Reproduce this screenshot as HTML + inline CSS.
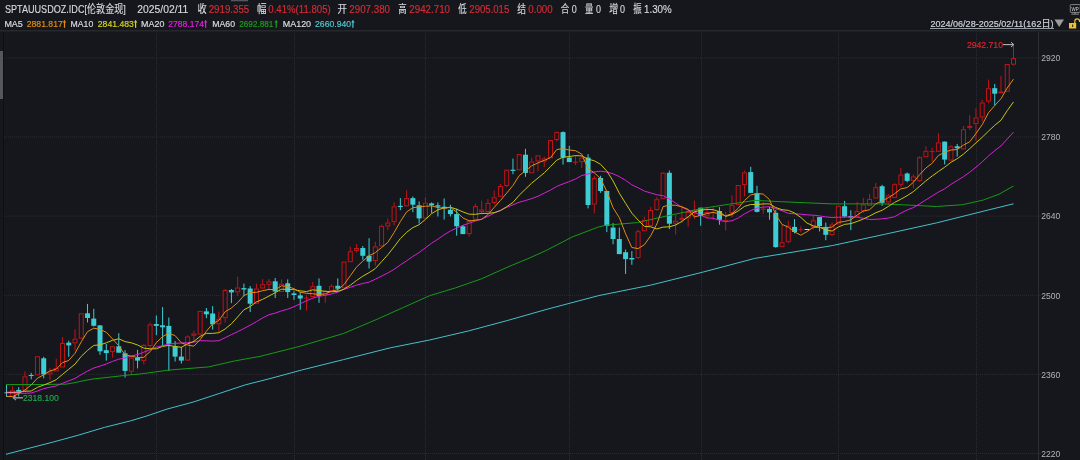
<!DOCTYPE html>
<html><head><meta charset="utf-8"><style>
html,body{margin:0;padding:0;background:#15171c;width:1080px;height:460px;overflow:hidden}
</style></head><body>
<svg width="1080" height="460" viewBox="0 0 1080 460" style="display:block">
<rect x="0" y="0" width="1080" height="460" fill="#15171c"/>
<rect x="0" y="30" width="1080" height="1" fill="#26282d"/>
<rect x="0" y="31" width="1080" height="1" fill="#1d1f24"/>
<rect x="3" y="32" width="1" height="428" fill="#0e0f12"/>
<rect x="0" y="51" width="3" height="48" fill="#55575e"/>
<rect x="1038" y="32" width="1" height="428" fill="#2c2e33"/>
<line x1="4" y1="57.9" x2="1038" y2="57.9" stroke="#2a2c31" stroke-width="1" stroke-dasharray="1 1"/>
<line x1="4" y1="137.0" x2="1038" y2="137.0" stroke="#2a2c31" stroke-width="1" stroke-dasharray="1 1"/>
<line x1="4" y1="216.1" x2="1038" y2="216.1" stroke="#2a2c31" stroke-width="1" stroke-dasharray="1 1"/>
<line x1="4" y1="295.3" x2="1038" y2="295.3" stroke="#2a2c31" stroke-width="1" stroke-dasharray="1 1"/>
<line x1="4" y1="374.4" x2="1038" y2="374.4" stroke="#2a2c31" stroke-width="1" stroke-dasharray="1 1"/>
<line x1="4" y1="453.5" x2="1038" y2="453.5" stroke="#2a2c31" stroke-width="1" stroke-dasharray="1 1"/>
<line x1="156.5" y1="33" x2="156.5" y2="460" stroke="#2a2c31" stroke-width="1" stroke-dasharray="1 1" shape-rendering="crispEdges"/>
<line x1="294.5" y1="33" x2="294.5" y2="460" stroke="#2a2c31" stroke-width="1" stroke-dasharray="1 1" shape-rendering="crispEdges"/>
<line x1="425.5" y1="33" x2="425.5" y2="460" stroke="#2a2c31" stroke-width="1" stroke-dasharray="1 1" shape-rendering="crispEdges"/>
<line x1="569.5" y1="33" x2="569.5" y2="460" stroke="#2a2c31" stroke-width="1" stroke-dasharray="1 1" shape-rendering="crispEdges"/>
<line x1="701.5" y1="33" x2="701.5" y2="460" stroke="#2a2c31" stroke-width="1" stroke-dasharray="1 1" shape-rendering="crispEdges"/>
<line x1="838.5" y1="33" x2="838.5" y2="460" stroke="#2a2c31" stroke-width="1" stroke-dasharray="1 1" shape-rendering="crispEdges"/>
<line x1="976.5" y1="33" x2="976.5" y2="460" stroke="#2a2c31" stroke-width="1" stroke-dasharray="1 1" shape-rendering="crispEdges"/>
<rect x="10.43" y="390.80" width="4" height="5.50" fill="#15171c" stroke="#c01418" stroke-width="1"/>
<rect x="11.93" y="386.10" width="1" height="4.20" fill="#c01418"/>
<rect x="11.93" y="396.80" width="1" height="0.50" fill="#c01418"/>
<rect x="18.19" y="387.10" width="1" height="9.40" fill="#3ecdd4"/>
<rect x="16.19" y="389.90" width="5" height="1.60" fill="#3ecdd4"/>
<rect x="22.94" y="376.80" width="4" height="13.30" fill="#15171c" stroke="#c01418" stroke-width="1"/>
<rect x="24.44" y="371.40" width="1" height="4.90" fill="#c01418"/>
<rect x="24.44" y="390.60" width="1" height="0.40" fill="#c01418"/>
<rect x="30.70" y="372.80" width="1" height="6.50" fill="#3ecdd4"/>
<rect x="28.70" y="375.00" width="5" height="1.00" fill="#3ecdd4"/>
<rect x="35.46" y="356.70" width="4" height="18.10" fill="#15171c" stroke="#c01418" stroke-width="1"/>
<rect x="43.21" y="356.80" width="1" height="21.50" fill="#3ecdd4"/>
<rect x="41.21" y="358.30" width="5" height="16.10" fill="#3ecdd4"/>
<rect x="47.97" y="371.90" width="4" height="2.00" fill="#15171c" stroke="#c01418" stroke-width="1"/>
<rect x="49.47" y="368.10" width="1" height="3.30" fill="#c01418"/>
<rect x="49.47" y="374.40" width="1" height="5.80" fill="#c01418"/>
<rect x="54.23" y="368.60" width="4" height="2.30" fill="#15171c" stroke="#c01418" stroke-width="1"/>
<rect x="55.73" y="358.70" width="1" height="9.40" fill="#c01418"/>
<rect x="60.48" y="343.50" width="4" height="23.50" fill="#15171c" stroke="#c01418" stroke-width="1"/>
<rect x="61.98" y="337.20" width="1" height="5.80" fill="#c01418"/>
<rect x="68.24" y="340.70" width="1" height="16.10" fill="#3ecdd4"/>
<rect x="66.24" y="342.70" width="5" height="2.70" fill="#3ecdd4"/>
<rect x="73.00" y="339.20" width="4" height="3.70" fill="#15171c" stroke="#c01418" stroke-width="1"/>
<rect x="74.50" y="329.40" width="1" height="9.30" fill="#c01418"/>
<rect x="74.50" y="343.40" width="1" height="7.10" fill="#c01418"/>
<rect x="79.25" y="313.80" width="4" height="24.40" fill="#15171c" stroke="#c01418" stroke-width="1"/>
<rect x="87.01" y="303.90" width="1" height="18.60" fill="#3ecdd4"/>
<rect x="85.01" y="313.30" width="5" height="4.70" fill="#3ecdd4"/>
<rect x="93.27" y="308.80" width="1" height="17.70" fill="#3ecdd4"/>
<rect x="91.27" y="318.60" width="5" height="7.20" fill="#3ecdd4"/>
<rect x="99.52" y="325.00" width="1" height="29.80" fill="#3ecdd4"/>
<rect x="97.52" y="325.40" width="5" height="25.90" fill="#3ecdd4"/>
<rect x="105.78" y="344.00" width="1" height="16.60" fill="#3ecdd4"/>
<rect x="103.78" y="350.20" width="5" height="2.90" fill="#3ecdd4"/>
<rect x="110.54" y="346.80" width="4" height="4.80" fill="#15171c" stroke="#c01418" stroke-width="1"/>
<rect x="112.04" y="352.10" width="1" height="5.50" fill="#c01418"/>
<rect x="118.29" y="333.20" width="1" height="19.50" fill="#3ecdd4"/>
<rect x="116.29" y="346.30" width="5" height="6.40" fill="#3ecdd4"/>
<rect x="124.55" y="350.20" width="1" height="27.40" fill="#3ecdd4"/>
<rect x="122.55" y="353.30" width="5" height="17.60" fill="#3ecdd4"/>
<rect x="129.31" y="358.10" width="4" height="13.10" fill="#15171c" stroke="#c01418" stroke-width="1"/>
<rect x="130.81" y="356.00" width="1" height="1.60" fill="#c01418"/>
<rect x="130.81" y="371.70" width="1" height="3.50" fill="#c01418"/>
<rect x="137.06" y="349.80" width="1" height="18.60" fill="#3ecdd4"/>
<rect x="135.06" y="358.00" width="5" height="2.60" fill="#3ecdd4"/>
<rect x="141.82" y="345.40" width="4" height="15.20" fill="#15171c" stroke="#c01418" stroke-width="1"/>
<rect x="143.32" y="343.90" width="1" height="1.00" fill="#c01418"/>
<rect x="143.32" y="361.10" width="1" height="3.40" fill="#c01418"/>
<rect x="148.08" y="324.90" width="4" height="20.60" fill="#15171c" stroke="#c01418" stroke-width="1"/>
<rect x="149.58" y="322.40" width="1" height="2.00" fill="#c01418"/>
<rect x="149.58" y="346.00" width="1" height="2.20" fill="#c01418"/>
<rect x="155.83" y="315.50" width="1" height="19.60" fill="#3ecdd4"/>
<rect x="153.83" y="324.00" width="5" height="1.90" fill="#3ecdd4"/>
<rect x="162.09" y="307.10" width="1" height="38.80" fill="#3ecdd4"/>
<rect x="160.09" y="325.30" width="5" height="2.00" fill="#3ecdd4"/>
<rect x="168.35" y="317.50" width="1" height="53.40" fill="#3ecdd4"/>
<rect x="166.35" y="325.90" width="5" height="18.00" fill="#3ecdd4"/>
<rect x="174.60" y="341.00" width="1" height="20.50" fill="#3ecdd4"/>
<rect x="172.60" y="346.30" width="5" height="10.30" fill="#3ecdd4"/>
<rect x="180.86" y="346.90" width="1" height="16.60" fill="#3ecdd4"/>
<rect x="178.86" y="356.60" width="5" height="4.00" fill="#3ecdd4"/>
<rect x="185.62" y="336.90" width="4" height="23.20" fill="#15171c" stroke="#c01418" stroke-width="1"/>
<rect x="187.12" y="335.40" width="1" height="1.00" fill="#c01418"/>
<rect x="187.12" y="360.60" width="1" height="0.40" fill="#c01418"/>
<rect x="191.87" y="334.00" width="4" height="1.30" fill="#15171c" stroke="#c01418" stroke-width="1"/>
<rect x="193.37" y="330.60" width="1" height="2.90" fill="#c01418"/>
<rect x="193.37" y="335.80" width="1" height="6.50" fill="#c01418"/>
<rect x="198.13" y="311.50" width="4" height="22.50" fill="#15171c" stroke="#c01418" stroke-width="1"/>
<rect x="205.89" y="308.00" width="1" height="10.20" fill="#3ecdd4"/>
<rect x="203.89" y="311.40" width="5" height="2.90" fill="#3ecdd4"/>
<rect x="212.14" y="306.10" width="1" height="23.50" fill="#3ecdd4"/>
<rect x="210.14" y="313.50" width="5" height="10.80" fill="#3ecdd4"/>
<rect x="216.90" y="319.30" width="4" height="4.50" fill="#15171c" stroke="#c01418" stroke-width="1"/>
<rect x="218.40" y="311.60" width="1" height="7.20" fill="#c01418"/>
<rect x="218.40" y="324.30" width="1" height="8.20" fill="#c01418"/>
<rect x="223.16" y="290.50" width="4" height="27.20" fill="#15171c" stroke="#c01418" stroke-width="1"/>
<rect x="224.66" y="288.90" width="1" height="1.10" fill="#c01418"/>
<rect x="224.66" y="318.20" width="1" height="4.50" fill="#c01418"/>
<rect x="230.91" y="289.00" width="1" height="14.20" fill="#3ecdd4"/>
<rect x="228.91" y="290.00" width="5" height="2.40" fill="#3ecdd4"/>
<rect x="235.67" y="288.00" width="4" height="3.90" fill="#15171c" stroke="#c01418" stroke-width="1"/>
<rect x="237.17" y="276.70" width="1" height="10.80" fill="#c01418"/>
<rect x="237.17" y="292.40" width="1" height="3.50" fill="#c01418"/>
<rect x="243.43" y="283.60" width="1" height="12.70" fill="#3ecdd4"/>
<rect x="241.43" y="288.10" width="5" height="1.40" fill="#3ecdd4"/>
<rect x="249.68" y="286.10" width="1" height="25.90" fill="#3ecdd4"/>
<rect x="247.68" y="288.50" width="5" height="15.20" fill="#3ecdd4"/>
<rect x="254.44" y="289.00" width="4" height="14.20" fill="#15171c" stroke="#c01418" stroke-width="1"/>
<rect x="255.94" y="283.60" width="1" height="4.90" fill="#c01418"/>
<rect x="260.70" y="284.70" width="4" height="3.30" fill="#15171c" stroke="#c01418" stroke-width="1"/>
<rect x="262.20" y="279.10" width="1" height="5.10" fill="#c01418"/>
<rect x="266.95" y="281.80" width="4" height="2.50" fill="#15171c" stroke="#c01418" stroke-width="1"/>
<rect x="268.45" y="279.00" width="1" height="2.30" fill="#c01418"/>
<rect x="268.45" y="284.80" width="1" height="5.30" fill="#c01418"/>
<rect x="274.71" y="278.00" width="1" height="20.00" fill="#3ecdd4"/>
<rect x="272.71" y="281.30" width="5" height="10.20" fill="#3ecdd4"/>
<rect x="279.47" y="284.20" width="4" height="7.40" fill="#15171c" stroke="#c01418" stroke-width="1"/>
<rect x="280.97" y="279.40" width="1" height="4.30" fill="#c01418"/>
<rect x="287.22" y="279.40" width="1" height="18.60" fill="#3ecdd4"/>
<rect x="285.22" y="283.30" width="5" height="8.80" fill="#3ecdd4"/>
<rect x="293.48" y="291.10" width="1" height="8.80" fill="#3ecdd4"/>
<rect x="291.48" y="293.40" width="5" height="1.60" fill="#3ecdd4"/>
<rect x="299.74" y="292.10" width="1" height="17.60" fill="#3ecdd4"/>
<rect x="297.74" y="295.40" width="5" height="3.10" fill="#3ecdd4"/>
<rect x="303.99" y="297.65" width="5" height="1" fill="#c01418"/>
<rect x="305.99" y="295.00" width="1" height="15.70" fill="#c01418"/>
<rect x="310.75" y="286.70" width="4" height="9.80" fill="#15171c" stroke="#c01418" stroke-width="1"/>
<rect x="312.25" y="281.90" width="1" height="4.30" fill="#c01418"/>
<rect x="318.51" y="278.40" width="1" height="24.40" fill="#3ecdd4"/>
<rect x="316.51" y="285.80" width="5" height="10.20" fill="#3ecdd4"/>
<rect x="323.27" y="291.60" width="4" height="3.30" fill="#15171c" stroke="#c01418" stroke-width="1"/>
<rect x="324.77" y="290.00" width="1" height="1.10" fill="#c01418"/>
<rect x="324.77" y="295.40" width="1" height="7.40" fill="#c01418"/>
<rect x="329.52" y="286.30" width="4" height="4.30" fill="#15171c" stroke="#c01418" stroke-width="1"/>
<rect x="331.02" y="284.20" width="1" height="1.60" fill="#c01418"/>
<rect x="337.28" y="278.40" width="1" height="12.70" fill="#3ecdd4"/>
<rect x="335.28" y="285.80" width="5" height="2.90" fill="#3ecdd4"/>
<rect x="342.04" y="262.10" width="4" height="25.60" fill="#15171c" stroke="#c01418" stroke-width="1"/>
<rect x="348.29" y="251.80" width="4" height="9.90" fill="#15171c" stroke="#c01418" stroke-width="1"/>
<rect x="349.79" y="246.60" width="1" height="4.70" fill="#c01418"/>
<rect x="354.55" y="248.50" width="4" height="1.90" fill="#15171c" stroke="#c01418" stroke-width="1"/>
<rect x="356.05" y="244.00" width="1" height="4.00" fill="#c01418"/>
<rect x="356.05" y="250.90" width="1" height="1.50" fill="#c01418"/>
<rect x="362.31" y="246.00" width="1" height="13.70" fill="#3ecdd4"/>
<rect x="360.31" y="248.00" width="5" height="7.80" fill="#3ecdd4"/>
<rect x="368.56" y="238.20" width="1" height="30.30" fill="#3ecdd4"/>
<rect x="366.56" y="255.80" width="5" height="5.80" fill="#3ecdd4"/>
<rect x="373.32" y="246.90" width="4" height="13.70" fill="#15171c" stroke="#c01418" stroke-width="1"/>
<rect x="374.82" y="241.70" width="1" height="4.70" fill="#c01418"/>
<rect x="374.82" y="261.10" width="1" height="4.50" fill="#c01418"/>
<rect x="379.58" y="226.30" width="4" height="19.60" fill="#15171c" stroke="#c01418" stroke-width="1"/>
<rect x="381.08" y="224.50" width="1" height="1.30" fill="#c01418"/>
<rect x="385.83" y="223.00" width="4" height="2.90" fill="#15171c" stroke="#c01418" stroke-width="1"/>
<rect x="387.33" y="218.60" width="1" height="3.90" fill="#c01418"/>
<rect x="387.33" y="226.40" width="1" height="3.90" fill="#c01418"/>
<rect x="392.09" y="206.80" width="4" height="14.90" fill="#15171c" stroke="#c01418" stroke-width="1"/>
<rect x="393.59" y="202.40" width="1" height="3.90" fill="#c01418"/>
<rect x="393.59" y="222.20" width="1" height="3.20" fill="#c01418"/>
<rect x="399.85" y="198.10" width="1" height="12.10" fill="#3ecdd4"/>
<rect x="397.85" y="205.90" width="5" height="1.10" fill="#3ecdd4"/>
<rect x="404.60" y="198.60" width="4" height="7.20" fill="#15171c" stroke="#c01418" stroke-width="1"/>
<rect x="406.10" y="190.30" width="1" height="7.80" fill="#c01418"/>
<rect x="412.36" y="196.50" width="1" height="15.70" fill="#3ecdd4"/>
<rect x="410.36" y="198.10" width="5" height="6.60" fill="#3ecdd4"/>
<rect x="418.62" y="201.40" width="1" height="22.10" fill="#3ecdd4"/>
<rect x="416.62" y="205.30" width="5" height="13.10" fill="#3ecdd4"/>
<rect x="423.37" y="203.30" width="4" height="14.60" fill="#15171c" stroke="#c01418" stroke-width="1"/>
<rect x="424.87" y="197.50" width="1" height="5.30" fill="#c01418"/>
<rect x="424.87" y="218.40" width="1" height="0.60" fill="#c01418"/>
<rect x="431.13" y="202.40" width="1" height="10.80" fill="#3ecdd4"/>
<rect x="429.13" y="203.40" width="5" height="1.90" fill="#3ecdd4"/>
<rect x="437.39" y="202.40" width="1" height="14.10" fill="#3ecdd4"/>
<rect x="435.39" y="205.30" width="5" height="1.40" fill="#3ecdd4"/>
<rect x="443.64" y="198.50" width="1" height="21.10" fill="#3ecdd4"/>
<rect x="441.64" y="206.70" width="5" height="1.60" fill="#3ecdd4"/>
<rect x="449.90" y="204.70" width="1" height="11.80" fill="#3ecdd4"/>
<rect x="447.90" y="209.80" width="5" height="4.30" fill="#3ecdd4"/>
<rect x="456.16" y="208.70" width="1" height="27.00" fill="#3ecdd4"/>
<rect x="454.16" y="214.10" width="5" height="12.20" fill="#3ecdd4"/>
<rect x="462.41" y="225.00" width="1" height="9.10" fill="#3ecdd4"/>
<rect x="460.41" y="226.30" width="5" height="7.80" fill="#3ecdd4"/>
<rect x="467.17" y="221.50" width="4" height="12.10" fill="#15171c" stroke="#c01418" stroke-width="1"/>
<rect x="468.67" y="219.60" width="1" height="1.40" fill="#c01418"/>
<rect x="468.67" y="234.10" width="1" height="2.50" fill="#c01418"/>
<rect x="473.43" y="206.60" width="4" height="12.70" fill="#15171c" stroke="#c01418" stroke-width="1"/>
<rect x="474.93" y="203.60" width="1" height="2.50" fill="#c01418"/>
<rect x="474.93" y="219.80" width="1" height="0.60" fill="#c01418"/>
<rect x="479.68" y="210.00" width="4" height="1.50" fill="#15171c" stroke="#c01418" stroke-width="1"/>
<rect x="481.18" y="200.70" width="1" height="8.80" fill="#c01418"/>
<rect x="481.18" y="212.00" width="1" height="2.40" fill="#c01418"/>
<rect x="485.94" y="203.50" width="4" height="8.00" fill="#15171c" stroke="#c01418" stroke-width="1"/>
<rect x="487.44" y="199.10" width="1" height="3.90" fill="#c01418"/>
<rect x="487.44" y="212.00" width="1" height="0.40" fill="#c01418"/>
<rect x="492.20" y="197.80" width="4" height="4.70" fill="#15171c" stroke="#c01418" stroke-width="1"/>
<rect x="493.70" y="190.50" width="1" height="6.80" fill="#c01418"/>
<rect x="493.70" y="203.00" width="1" height="1.60" fill="#c01418"/>
<rect x="498.45" y="186.50" width="4" height="9.80" fill="#15171c" stroke="#c01418" stroke-width="1"/>
<rect x="499.95" y="184.00" width="1" height="2.00" fill="#c01418"/>
<rect x="504.71" y="170.20" width="4" height="15.30" fill="#15171c" stroke="#c01418" stroke-width="1"/>
<rect x="506.21" y="186.00" width="1" height="1.00" fill="#c01418"/>
<rect x="512.47" y="158.60" width="1" height="15.60" fill="#3ecdd4"/>
<rect x="510.47" y="169.70" width="5" height="1.20" fill="#3ecdd4"/>
<rect x="517.22" y="154.60" width="4" height="15.20" fill="#15171c" stroke="#c01418" stroke-width="1"/>
<rect x="524.98" y="148.80" width="1" height="28.00" fill="#3ecdd4"/>
<rect x="522.98" y="154.70" width="5" height="18.20" fill="#3ecdd4"/>
<rect x="529.74" y="162.00" width="4" height="10.80" fill="#15171c" stroke="#c01418" stroke-width="1"/>
<rect x="531.24" y="157.60" width="1" height="3.90" fill="#c01418"/>
<rect x="535.99" y="155.80" width="4" height="5.20" fill="#15171c" stroke="#c01418" stroke-width="1"/>
<rect x="537.49" y="161.50" width="1" height="9.80" fill="#c01418"/>
<rect x="542.25" y="158.90" width="4" height="2.20" fill="#15171c" stroke="#c01418" stroke-width="1"/>
<rect x="543.75" y="156.60" width="1" height="1.80" fill="#c01418"/>
<rect x="543.75" y="161.60" width="1" height="5.40" fill="#c01418"/>
<rect x="548.51" y="140.50" width="4" height="17.20" fill="#15171c" stroke="#c01418" stroke-width="1"/>
<rect x="554.76" y="132.60" width="4" height="6.90" fill="#15171c" stroke="#c01418" stroke-width="1"/>
<rect x="556.26" y="131.40" width="1" height="0.70" fill="#c01418"/>
<rect x="556.26" y="140.00" width="1" height="1.50" fill="#c01418"/>
<rect x="562.52" y="131.40" width="1" height="33.20" fill="#3ecdd4"/>
<rect x="560.52" y="132.10" width="5" height="25.50" fill="#3ecdd4"/>
<rect x="568.78" y="145.80" width="1" height="16.30" fill="#3ecdd4"/>
<rect x="566.78" y="157.60" width="5" height="4.50" fill="#3ecdd4"/>
<rect x="573.03" y="161.75" width="5" height="1" fill="#c01418"/>
<rect x="575.03" y="155.20" width="1" height="9.80" fill="#c01418"/>
<rect x="579.79" y="158.10" width="4" height="3.50" fill="#15171c" stroke="#c01418" stroke-width="1"/>
<rect x="581.29" y="155.60" width="1" height="2.00" fill="#c01418"/>
<rect x="581.29" y="162.10" width="1" height="5.90" fill="#c01418"/>
<rect x="587.55" y="154.20" width="1" height="54.20" fill="#3ecdd4"/>
<rect x="585.55" y="157.60" width="5" height="47.40" fill="#3ecdd4"/>
<rect x="592.30" y="178.50" width="4" height="25.60" fill="#15171c" stroke="#c01418" stroke-width="1"/>
<rect x="593.80" y="175.80" width="1" height="2.20" fill="#c01418"/>
<rect x="593.80" y="204.60" width="1" height="8.80" fill="#c01418"/>
<rect x="600.06" y="175.80" width="1" height="17.00" fill="#3ecdd4"/>
<rect x="598.06" y="178.00" width="5" height="13.00" fill="#3ecdd4"/>
<rect x="606.32" y="190.80" width="1" height="41.30" fill="#3ecdd4"/>
<rect x="604.32" y="191.00" width="5" height="35.00" fill="#3ecdd4"/>
<rect x="612.57" y="223.00" width="1" height="21.20" fill="#3ecdd4"/>
<rect x="610.57" y="227.60" width="5" height="11.40" fill="#3ecdd4"/>
<rect x="618.83" y="227.60" width="1" height="26.50" fill="#3ecdd4"/>
<rect x="616.83" y="239.00" width="5" height="15.10" fill="#3ecdd4"/>
<rect x="625.09" y="249.50" width="1" height="24.40" fill="#3ecdd4"/>
<rect x="623.09" y="252.20" width="5" height="6.90" fill="#3ecdd4"/>
<rect x="631.34" y="251.10" width="1" height="13.70" fill="#3ecdd4"/>
<rect x="629.34" y="258.00" width="5" height="1.50" fill="#3ecdd4"/>
<rect x="636.10" y="231.70" width="4" height="25.80" fill="#15171c" stroke="#c01418" stroke-width="1"/>
<rect x="637.60" y="229.80" width="1" height="1.40" fill="#c01418"/>
<rect x="637.60" y="258.00" width="1" height="1.10" fill="#c01418"/>
<rect x="642.36" y="220.30" width="4" height="10.40" fill="#15171c" stroke="#c01418" stroke-width="1"/>
<rect x="643.86" y="216.80" width="1" height="3.00" fill="#c01418"/>
<rect x="648.61" y="210.50" width="4" height="15.00" fill="#15171c" stroke="#c01418" stroke-width="1"/>
<rect x="650.11" y="207.00" width="1" height="3.00" fill="#c01418"/>
<rect x="650.11" y="226.00" width="1" height="0.60" fill="#c01418"/>
<rect x="654.87" y="199.70" width="4" height="9.80" fill="#15171c" stroke="#c01418" stroke-width="1"/>
<rect x="656.37" y="197.00" width="1" height="2.20" fill="#c01418"/>
<rect x="656.37" y="210.00" width="1" height="0.70" fill="#c01418"/>
<rect x="661.13" y="173.20" width="4" height="25.50" fill="#15171c" stroke="#c01418" stroke-width="1"/>
<rect x="662.63" y="172.00" width="1" height="0.70" fill="#c01418"/>
<rect x="668.88" y="170.50" width="1" height="58.70" fill="#3ecdd4"/>
<rect x="666.88" y="172.80" width="5" height="50.90" fill="#3ecdd4"/>
<rect x="673.64" y="221.30" width="4" height="1.90" fill="#15171c" stroke="#c01418" stroke-width="1"/>
<rect x="675.14" y="214.90" width="1" height="5.90" fill="#c01418"/>
<rect x="675.14" y="223.70" width="1" height="10.80" fill="#c01418"/>
<rect x="679.90" y="218.30" width="4" height="1.00" fill="#15171c" stroke="#c01418" stroke-width="1"/>
<rect x="681.40" y="205.70" width="1" height="12.10" fill="#c01418"/>
<rect x="681.40" y="219.80" width="1" height="2.90" fill="#c01418"/>
<rect x="686.15" y="212.50" width="4" height="5.20" fill="#15171c" stroke="#c01418" stroke-width="1"/>
<rect x="687.65" y="210.00" width="1" height="2.00" fill="#c01418"/>
<rect x="687.65" y="218.20" width="1" height="8.40" fill="#c01418"/>
<rect x="692.41" y="210.90" width="4" height="1.50" fill="#15171c" stroke="#c01418" stroke-width="1"/>
<rect x="693.91" y="200.60" width="1" height="9.80" fill="#c01418"/>
<rect x="693.91" y="212.90" width="1" height="5.90" fill="#c01418"/>
<rect x="700.17" y="207.70" width="1" height="18.00" fill="#3ecdd4"/>
<rect x="698.17" y="207.70" width="5" height="8.20" fill="#3ecdd4"/>
<rect x="704.92" y="212.50" width="4" height="3.30" fill="#15171c" stroke="#c01418" stroke-width="1"/>
<rect x="706.42" y="207.10" width="1" height="4.90" fill="#c01418"/>
<rect x="706.42" y="216.30" width="1" height="2.50" fill="#c01418"/>
<rect x="710.68" y="211.75" width="5" height="1" fill="#c01418"/>
<rect x="712.68" y="207.10" width="1" height="12.70" fill="#c01418"/>
<rect x="718.94" y="207.10" width="1" height="17.60" fill="#3ecdd4"/>
<rect x="716.94" y="211.00" width="5" height="8.80" fill="#3ecdd4"/>
<rect x="723.19" y="220.10" width="5" height="1" fill="#c01418"/>
<rect x="725.19" y="212.00" width="1" height="18.60" fill="#c01418"/>
<rect x="729.95" y="205.60" width="4" height="6.80" fill="#15171c" stroke="#c01418" stroke-width="1"/>
<rect x="731.45" y="195.30" width="1" height="9.80" fill="#c01418"/>
<rect x="731.45" y="212.90" width="1" height="4.50" fill="#c01418"/>
<rect x="736.21" y="185.50" width="4" height="19.10" fill="#15171c" stroke="#c01418" stroke-width="1"/>
<rect x="742.46" y="172.90" width="4" height="11.60" fill="#15171c" stroke="#c01418" stroke-width="1"/>
<rect x="743.96" y="170.50" width="1" height="1.90" fill="#c01418"/>
<rect x="743.96" y="185.00" width="1" height="11.30" fill="#c01418"/>
<rect x="750.22" y="166.80" width="1" height="26.10" fill="#3ecdd4"/>
<rect x="748.22" y="172.10" width="5" height="20.80" fill="#3ecdd4"/>
<rect x="756.48" y="185.80" width="1" height="26.60" fill="#3ecdd4"/>
<rect x="754.48" y="193.30" width="5" height="18.60" fill="#3ecdd4"/>
<rect x="760.73" y="208.70" width="5" height="1" fill="#c01418"/>
<rect x="762.73" y="202.10" width="1" height="11.70" fill="#c01418"/>
<rect x="768.99" y="207.00" width="1" height="12.70" fill="#3ecdd4"/>
<rect x="766.99" y="208.90" width="5" height="3.50" fill="#3ecdd4"/>
<rect x="775.25" y="209.90" width="1" height="37.80" fill="#3ecdd4"/>
<rect x="773.25" y="212.80" width="5" height="34.30" fill="#3ecdd4"/>
<rect x="780.00" y="242.70" width="4" height="3.90" fill="#15171c" stroke="#c01418" stroke-width="1"/>
<rect x="781.50" y="224.60" width="1" height="17.60" fill="#c01418"/>
<rect x="786.26" y="226.10" width="4" height="15.60" fill="#15171c" stroke="#c01418" stroke-width="1"/>
<rect x="787.76" y="220.70" width="1" height="4.90" fill="#c01418"/>
<rect x="787.76" y="242.20" width="1" height="1.00" fill="#c01418"/>
<rect x="794.02" y="219.10" width="1" height="14.30" fill="#3ecdd4"/>
<rect x="792.02" y="226.90" width="5" height="5.10" fill="#3ecdd4"/>
<rect x="798.27" y="229.20" width="5" height="1" fill="#c01418"/>
<rect x="800.27" y="226.50" width="1" height="5.90" fill="#c01418"/>
<rect x="804.53" y="229.00" width="5" height="1" fill="#d8d8d8"/>
<rect x="811.29" y="220.80" width="4" height="5.60" fill="#15171c" stroke="#c01418" stroke-width="1"/>
<rect x="812.79" y="215.80" width="1" height="4.50" fill="#c01418"/>
<rect x="812.79" y="226.90" width="1" height="2.60" fill="#c01418"/>
<rect x="819.04" y="217.10" width="1" height="14.30" fill="#3ecdd4"/>
<rect x="817.04" y="217.10" width="5" height="9.00" fill="#3ecdd4"/>
<rect x="825.30" y="222.60" width="1" height="17.60" fill="#3ecdd4"/>
<rect x="823.30" y="226.90" width="5" height="7.90" fill="#3ecdd4"/>
<rect x="830.06" y="224.90" width="4" height="9.70" fill="#15171c" stroke="#c01418" stroke-width="1"/>
<rect x="831.56" y="222.40" width="1" height="2.00" fill="#c01418"/>
<rect x="831.56" y="235.10" width="1" height="1.00" fill="#c01418"/>
<rect x="836.31" y="206.30" width="4" height="17.60" fill="#15171c" stroke="#c01418" stroke-width="1"/>
<rect x="844.07" y="200.90" width="1" height="16.60" fill="#3ecdd4"/>
<rect x="842.07" y="206.20" width="5" height="10.30" fill="#3ecdd4"/>
<rect x="850.33" y="210.30" width="1" height="19.90" fill="#3ecdd4"/>
<rect x="848.33" y="216.10" width="5" height="1.40" fill="#3ecdd4"/>
<rect x="855.08" y="211.60" width="4" height="4.80" fill="#15171c" stroke="#c01418" stroke-width="1"/>
<rect x="856.58" y="201.90" width="1" height="9.20" fill="#c01418"/>
<rect x="861.34" y="204.90" width="4" height="5.70" fill="#15171c" stroke="#c01418" stroke-width="1"/>
<rect x="862.84" y="197.90" width="1" height="6.50" fill="#c01418"/>
<rect x="862.84" y="211.10" width="1" height="1.50" fill="#c01418"/>
<rect x="867.60" y="199.40" width="4" height="5.90" fill="#15171c" stroke="#c01418" stroke-width="1"/>
<rect x="869.10" y="194.00" width="1" height="4.90" fill="#c01418"/>
<rect x="873.85" y="187.70" width="4" height="10.30" fill="#15171c" stroke="#c01418" stroke-width="1"/>
<rect x="875.35" y="182.90" width="1" height="4.30" fill="#c01418"/>
<rect x="881.61" y="184.80" width="1" height="21.00" fill="#3ecdd4"/>
<rect x="879.61" y="186.20" width="5" height="16.60" fill="#3ecdd4"/>
<rect x="886.37" y="195.90" width="4" height="6.00" fill="#15171c" stroke="#c01418" stroke-width="1"/>
<rect x="887.87" y="194.00" width="1" height="1.40" fill="#c01418"/>
<rect x="887.87" y="202.40" width="1" height="2.00" fill="#c01418"/>
<rect x="892.62" y="184.70" width="4" height="12.70" fill="#15171c" stroke="#c01418" stroke-width="1"/>
<rect x="894.12" y="183.30" width="1" height="0.90" fill="#c01418"/>
<rect x="898.88" y="175.00" width="4" height="9.30" fill="#15171c" stroke="#c01418" stroke-width="1"/>
<rect x="900.38" y="168.00" width="1" height="6.50" fill="#c01418"/>
<rect x="900.38" y="184.80" width="1" height="2.40" fill="#c01418"/>
<rect x="906.64" y="172.50" width="1" height="9.80" fill="#3ecdd4"/>
<rect x="904.64" y="173.50" width="5" height="7.40" fill="#3ecdd4"/>
<rect x="911.39" y="176.90" width="4" height="3.50" fill="#15171c" stroke="#c01418" stroke-width="1"/>
<rect x="912.89" y="174.40" width="1" height="2.00" fill="#c01418"/>
<rect x="912.89" y="180.90" width="1" height="7.30" fill="#c01418"/>
<rect x="917.65" y="157.70" width="4" height="22.90" fill="#15171c" stroke="#c01418" stroke-width="1"/>
<rect x="919.15" y="156.10" width="1" height="1.10" fill="#c01418"/>
<rect x="919.15" y="181.10" width="1" height="1.00" fill="#c01418"/>
<rect x="923.91" y="151.30" width="4" height="5.40" fill="#15171c" stroke="#c01418" stroke-width="1"/>
<rect x="925.41" y="146.30" width="1" height="4.50" fill="#c01418"/>
<rect x="929.66" y="150.95" width="5" height="1" fill="#c01418"/>
<rect x="931.66" y="147.80" width="1" height="13.70" fill="#c01418"/>
<rect x="936.42" y="142.90" width="4" height="8.40" fill="#15171c" stroke="#c01418" stroke-width="1"/>
<rect x="937.92" y="133.20" width="1" height="9.20" fill="#c01418"/>
<rect x="944.18" y="141.60" width="1" height="22.90" fill="#3ecdd4"/>
<rect x="942.18" y="141.60" width="5" height="18.00" fill="#3ecdd4"/>
<rect x="948.94" y="146.80" width="4" height="13.30" fill="#15171c" stroke="#c01418" stroke-width="1"/>
<rect x="950.44" y="144.90" width="1" height="1.40" fill="#c01418"/>
<rect x="956.69" y="143.90" width="1" height="12.70" fill="#3ecdd4"/>
<rect x="954.69" y="146.30" width="5" height="1.90" fill="#3ecdd4"/>
<rect x="961.45" y="129.70" width="4" height="19.20" fill="#15171c" stroke="#c01418" stroke-width="1"/>
<rect x="962.95" y="125.90" width="1" height="3.30" fill="#c01418"/>
<rect x="967.71" y="126.40" width="4" height="1.00" fill="#15171c" stroke="#c01418" stroke-width="1"/>
<rect x="969.21" y="115.20" width="1" height="10.70" fill="#c01418"/>
<rect x="969.21" y="127.90" width="1" height="1.90" fill="#c01418"/>
<rect x="973.96" y="118.00" width="4" height="5.50" fill="#15171c" stroke="#c01418" stroke-width="1"/>
<rect x="975.46" y="108.30" width="1" height="9.20" fill="#c01418"/>
<rect x="975.46" y="124.00" width="1" height="17.00" fill="#c01418"/>
<rect x="980.22" y="103.00" width="4" height="14.00" fill="#15171c" stroke="#c01418" stroke-width="1"/>
<rect x="981.72" y="99.80" width="1" height="2.70" fill="#c01418"/>
<rect x="981.72" y="117.50" width="1" height="3.90" fill="#c01418"/>
<rect x="986.48" y="88.70" width="4" height="12.30" fill="#15171c" stroke="#c01418" stroke-width="1"/>
<rect x="987.98" y="79.60" width="1" height="8.60" fill="#c01418"/>
<rect x="987.98" y="101.50" width="1" height="1.70" fill="#c01418"/>
<rect x="994.23" y="83.90" width="1" height="21.60" fill="#3ecdd4"/>
<rect x="992.23" y="88.20" width="5" height="5.50" fill="#3ecdd4"/>
<rect x="998.99" y="91.90" width="4" height="0.90" fill="#15171c" stroke="#c01418" stroke-width="1"/>
<rect x="1000.49" y="76.10" width="1" height="15.30" fill="#c01418"/>
<rect x="1005.25" y="64.50" width="4" height="26.80" fill="#15171c" stroke="#c01418" stroke-width="1"/>
<rect x="1011.50" y="58.60" width="4" height="5.60" fill="#15171c" stroke="#c01418" stroke-width="1"/>
<rect x="1013.00" y="44.60" width="1" height="13.50" fill="#c01418"/>
<rect x="1013.00" y="64.70" width="1" height="1.00" fill="#c01418"/>
<polyline points="6.0,454.3 26.1,449.0 52.2,442.3 78.3,435.2 104.4,427.4 130.4,420.9 146.1,416.2 167.0,409.1 193.1,402.1 219.2,393.5 245.2,384.9 270.0,378.6 301.7,370.0 343.5,359.6 390.4,347.8 429.6,340.0 468.7,330.9 507.8,320.4 546.1,309.5 598.3,295.7 650.4,285.2 702.6,272.2 754.8,258.4 790.0,252.6 832.2,245.6 884.3,234.4 936.5,222.9 988.6,209.9 1013.5,203.8" fill="none" stroke="#46c0c8" stroke-width="1" stroke-linejoin="round"/>
<polyline points="6.0,384.6 40.0,384.5 66.0,384.2 75.0,382.6 84.0,380.6 93.0,379.0 111.0,377.0 130.5,374.8 140.0,374.0 169.6,370.0 208.7,366.9 234.8,360.9 260.0,356.4 299.1,346.5 343.5,333.5 377.4,319.1 403.5,307.4 429.6,295.7 455.7,287.8 481.8,278.7 507.8,267.0 530.0,257.8 546.1,250.5 572.2,237.0 598.3,227.0 606.1,225.2 637.4,222.6 666.1,216.1 702.6,208.3 728.7,204.3 754.8,200.4 780.9,201.7 832.2,203.9 884.3,203.9 910.4,205.2 936.5,206.5 962.5,204.7 983.4,200.0 999.0,194.2 1013.5,186.0" fill="none" stroke="#169a18" stroke-width="1" stroke-linejoin="round"/>
<polyline points="6.0,392.8 12.4,393.0 18.7,393.2 24.9,393.3 31.2,393.0 37.5,391.0 43.7,388.6 50.0,387.2 56.2,385.9 62.5,383.3 68.7,380.9 75.0,378.4 81.3,374.6 87.5,371.1 93.8,368.0 100.0,366.1 106.3,363.9 112.5,361.4 118.8,359.2 125.1,358.0 131.3,356.0 137.6,354.5 143.8,352.2 150.1,349.6 156.3,347.1 162.6,345.7 168.8,344.1 175.1,343.4 181.4,343.0 187.6,342.7 193.9,342.1 200.1,340.7 206.4,340.8 212.6,341.1 218.9,340.7 225.2,337.7 231.4,334.6 237.7,331.7 243.9,328.5 250.2,325.2 256.4,321.7 262.7,317.9 269.0,314.7 275.2,313.1 281.5,310.9 287.7,309.2 294.0,306.7 300.2,303.8 306.5,300.7 312.8,298.2 319.0,296.3 325.3,295.3 331.5,293.9 337.8,292.1 344.0,289.2 350.3,287.3 356.5,285.1 362.8,283.5 369.1,282.1 375.3,279.2 381.6,276.1 387.8,273.0 394.1,269.3 400.3,265.0 406.6,260.8 412.9,256.4 419.1,252.6 425.4,247.8 431.6,243.2 437.9,239.2 444.1,234.8 450.4,231.0 456.7,228.0 462.9,225.3 469.2,223.2 475.4,221.0 481.7,219.0 487.9,216.4 494.2,213.2 500.5,210.2 506.7,207.4 513.0,204.8 519.2,202.2 525.5,200.5 531.7,198.6 538.0,196.2 544.2,193.2 550.5,190.0 556.8,186.4 563.0,183.9 569.3,181.6 575.5,179.0 581.8,175.5 588.0,174.1 594.3,171.9 600.6,171.2 606.8,172.0 613.1,173.8 619.3,176.6 625.6,180.3 631.8,184.8 638.1,187.8 644.4,191.1 650.6,192.9 656.9,194.8 663.1,195.7 669.4,199.0 675.6,203.0 681.9,207.3 688.2,210.0 694.4,212.4 700.7,215.1 706.9,217.9 713.2,218.2 719.4,220.3 725.7,221.7 732.0,220.7 738.2,218.0 744.5,213.9 750.7,210.6 757.0,208.2 763.2,207.1 769.5,206.7 775.7,208.6 782.0,210.7 788.3,213.3 794.5,213.8 800.8,214.2 807.0,214.8 813.3,215.2 819.5,215.9 825.8,216.9 832.1,217.5 838.3,217.2 844.6,217.1 850.8,216.9 857.1,217.2 863.3,218.2 869.6,219.5 875.9,219.3 882.1,218.8 888.4,218.1 894.6,216.7 900.9,213.1 907.1,210.0 913.4,207.6 919.7,203.8 925.9,199.9 932.2,196.0 938.4,192.1 944.7,188.8 950.9,184.4 957.2,180.5 963.4,176.7 969.7,172.2 976.0,167.2 982.2,161.8 988.5,155.9 994.7,150.7 1001.0,145.9 1007.2,139.0 1013.5,132.1" fill="none" stroke="#d820d8" stroke-width="1" stroke-linejoin="round"/>
<polyline points="6.0,392.3 12.4,392.3 18.7,392.0 24.9,391.3 31.2,391.0 37.5,387.3 43.7,385.1 50.0,382.6 56.2,379.7 62.5,374.4 68.7,369.3 75.0,364.1 81.3,356.3 87.5,350.4 93.8,345.4 100.0,344.9 106.3,342.8 112.5,340.3 118.8,338.8 125.1,341.6 131.3,342.8 137.6,345.0 143.8,348.1 150.1,348.8 156.3,348.8 162.6,346.4 168.8,345.4 175.1,346.5 181.4,347.3 187.6,343.8 193.9,341.4 200.1,336.4 206.4,333.4 212.6,333.4 218.9,332.7 225.2,328.9 231.4,323.8 237.7,316.9 243.9,309.8 250.2,306.5 256.4,302.0 262.7,299.3 269.0,296.0 275.2,292.7 281.5,289.2 287.7,289.4 294.0,289.7 300.2,290.8 306.5,291.6 312.8,289.8 319.0,290.6 325.3,291.3 331.5,291.7 337.8,291.4 344.0,289.2 350.3,285.2 356.5,280.5 362.8,276.2 369.1,272.6 375.3,268.6 381.6,261.6 387.8,254.8 394.1,246.8 400.3,238.6 406.6,232.3 412.9,227.6 419.1,224.7 425.4,219.4 431.6,213.7 437.9,209.8 444.1,208.0 450.4,207.2 456.7,209.2 462.9,211.9 469.2,214.2 475.4,214.3 481.7,213.4 487.9,213.4 494.2,212.6 500.5,210.6 506.7,206.7 513.0,202.4 519.2,195.2 525.5,189.1 531.7,183.1 538.0,178.0 544.2,172.9 550.5,166.6 556.8,160.1 563.0,157.2 569.3,156.5 575.5,155.6 581.8,155.9 588.0,159.1 594.3,160.8 600.6,164.3 606.8,171.1 613.1,181.0 619.3,193.2 625.6,203.3 631.8,213.1 638.1,220.1 644.4,226.3 650.6,226.8 656.9,228.9 663.1,227.1 669.4,226.8 675.6,225.0 681.9,221.4 688.2,216.7 694.4,211.8 700.7,210.2 706.9,209.4 713.2,209.6 719.4,211.7 725.7,216.4 732.0,214.5 738.2,210.9 744.5,206.4 750.7,204.5 757.0,204.6 763.2,203.9 769.5,203.9 775.7,207.5 782.0,209.7 788.3,210.3 794.5,213.0 800.8,217.4 807.0,223.1 813.3,225.8 819.5,227.3 825.8,229.9 832.1,231.1 838.3,227.0 844.6,224.4 850.8,223.6 857.1,221.5 863.3,219.0 869.6,216.0 875.9,212.7 882.1,210.3 888.4,206.4 894.6,202.4 900.9,199.2 907.1,195.7 913.4,191.6 919.7,186.2 925.9,180.8 932.2,176.0 938.4,171.5 944.7,167.2 950.9,162.3 957.2,158.7 963.4,154.2 969.7,148.7 976.0,142.8 982.2,137.3 988.5,131.1 994.7,125.3 1001.0,120.2 1007.2,110.7 1013.5,101.9" fill="none" stroke="#c8c410" stroke-width="1" stroke-linejoin="round"/>
<polyline points="6.0,396.5 12.4,396.5 18.7,393.6 24.9,390.0 31.2,385.0 37.5,378.1 43.7,374.9 50.0,370.9 56.2,369.2 62.5,362.6 68.7,360.5 75.0,353.3 81.3,341.7 87.5,331.7 93.8,328.2 100.0,329.4 106.3,332.3 112.5,338.9 118.8,345.8 125.1,354.9 131.3,356.1 137.6,357.6 143.8,357.3 150.1,351.7 156.3,342.7 162.6,336.6 168.8,333.3 175.1,335.6 181.4,342.9 187.6,345.0 193.9,346.2 200.1,339.6 206.4,331.2 212.6,323.9 218.9,320.4 225.2,311.7 231.4,308.0 237.7,302.6 243.9,295.6 250.2,292.6 256.4,292.3 262.7,290.7 269.0,289.4 275.2,289.8 281.5,285.8 287.7,286.6 294.0,288.7 300.2,292.2 306.5,293.3 312.8,293.8 319.0,294.6 325.3,293.8 331.5,291.3 337.8,289.6 344.0,284.6 350.3,275.7 356.5,267.1 362.8,261.1 369.1,255.7 375.3,252.6 381.6,247.5 387.8,242.4 394.1,232.5 400.3,221.6 406.6,211.9 412.9,207.7 419.1,206.9 425.4,206.2 431.6,205.9 437.9,207.6 444.1,208.3 450.4,207.4 456.7,212.1 462.9,217.9 469.2,220.8 475.4,220.3 481.7,219.4 487.9,214.7 494.2,207.4 500.5,200.4 506.7,193.1 513.0,185.4 519.2,175.6 525.5,170.7 531.7,165.8 538.0,162.9 544.2,160.4 550.5,157.6 556.8,149.5 563.0,148.7 569.3,150.0 575.5,150.7 581.8,154.2 588.0,168.8 594.3,172.8 600.6,178.6 606.8,191.5 613.1,207.8 619.3,217.6 625.6,233.8 631.8,247.5 638.1,248.6 644.4,244.7 650.6,235.9 656.9,223.9 663.1,206.6 669.4,205.1 675.6,205.3 681.9,206.8 688.2,209.4 694.4,216.9 700.7,215.4 706.9,213.6 713.2,212.4 719.4,213.9 725.7,215.8 732.0,213.7 738.2,208.3 744.5,200.4 750.7,195.0 757.0,193.5 763.2,194.1 769.5,199.6 775.7,214.6 782.0,224.4 788.3,227.2 794.5,231.9 800.8,235.2 807.0,231.6 813.3,227.3 819.5,227.4 825.8,227.9 832.1,227.0 838.3,222.3 844.6,221.5 850.8,219.8 857.1,215.1 863.3,211.1 869.6,209.7 875.9,203.8 882.1,200.9 888.4,197.7 894.6,193.7 900.9,188.8 907.1,187.6 913.4,182.3 919.7,174.6 925.9,168.0 932.2,163.2 938.4,155.5 944.7,152.2 950.9,150.0 957.2,149.5 963.4,145.1 969.7,141.8 976.0,133.4 982.2,124.7 988.5,112.7 994.7,105.6 1001.0,98.7 1007.2,88.0 1013.5,79.1" fill="none" stroke="#e08c14" stroke-width="1" stroke-linejoin="round"/>
<rect x="6" y="385" width="1" height="11.5" fill="#46c0c8"/>
<rect x="5" y="392" width="16" height="1" fill="#ff7ab8" opacity="0.8"/>
<line x1="1003" y1="44.6" x2="1013.5" y2="44.6" stroke="#b4b4b4" stroke-width="1.1"/>
<polyline points="1011,42.2 1013.8,44.6 1011,47" fill="none" stroke="#b4b4b4" stroke-width="1"/>
<line x1="13.5" y1="397.8" x2="23" y2="397.8" stroke="#8c8c8c" stroke-width="1.6"/>
<polyline points="16,395.6 13.2,397.8 16,400.2" fill="none" stroke="#a0a0a0" stroke-width="1.1"/>
<rect x="4" y="392.4" width="2" height="1" fill="#2e8a90"/>
<text x="966.9" y="47.9" fill="#d6282e" font-size="9.6" font-family="'Liberation Sans','Noto Sans CJK SC',sans-serif" textLength="36.1" lengthAdjust="spacingAndGlyphs" stroke="#d6282e" stroke-width="0.2">2942.710</text>
<text x="23" y="400.8" fill="#1fa64a" font-size="9.6" font-family="'Liberation Sans','Noto Sans CJK SC',sans-serif" textLength="35.8" lengthAdjust="spacingAndGlyphs" stroke="#1fa64a" stroke-width="0.2">2318.100</text>
<text x="1041.3" y="60.9" fill="#b0b6be" font-size="9.5" font-family="'Liberation Sans','Noto Sans CJK SC',sans-serif" textLength="19" lengthAdjust="spacingAndGlyphs">2920</text>
<text x="1041.3" y="139.9" fill="#b0b6be" font-size="9.5" font-family="'Liberation Sans','Noto Sans CJK SC',sans-serif" textLength="19" lengthAdjust="spacingAndGlyphs">2780</text>
<text x="1041.3" y="218.9" fill="#b0b6be" font-size="9.5" font-family="'Liberation Sans','Noto Sans CJK SC',sans-serif" textLength="19" lengthAdjust="spacingAndGlyphs">2640</text>
<text x="1041.3" y="298.9" fill="#b0b6be" font-size="9.5" font-family="'Liberation Sans','Noto Sans CJK SC',sans-serif" textLength="19" lengthAdjust="spacingAndGlyphs">2500</text>
<text x="1041.3" y="377.9" fill="#b0b6be" font-size="9.5" font-family="'Liberation Sans','Noto Sans CJK SC',sans-serif" textLength="19" lengthAdjust="spacingAndGlyphs">2360</text>
<text x="1041.3" y="456.9" fill="#b0b6be" font-size="9.5" font-family="'Liberation Sans','Noto Sans CJK SC',sans-serif" textLength="19" lengthAdjust="spacingAndGlyphs">2220</text>
<line x1="1039" y1="57.9" x2="1041" y2="57.9" stroke="#2a2c31" stroke-width="1"/>
<line x1="1039" y1="137.0" x2="1041" y2="137.0" stroke="#2a2c31" stroke-width="1"/>
<line x1="1039" y1="216.1" x2="1041" y2="216.1" stroke="#2a2c31" stroke-width="1"/>
<line x1="1039" y1="295.3" x2="1041" y2="295.3" stroke="#2a2c31" stroke-width="1"/>
<line x1="1039" y1="374.4" x2="1041" y2="374.4" stroke="#2a2c31" stroke-width="1"/>
<line x1="1039" y1="453.5" x2="1041" y2="453.5" stroke="#2a2c31" stroke-width="1"/>
<text x="5" y="13.1" fill="#d6dae0" font-size="10.8" font-family="'Liberation Sans','Noto Sans CJK SC',sans-serif" textLength="120.8" lengthAdjust="spacingAndGlyphs" stroke="#d6dae0" stroke-width="0.15">SPTAUUSDOZ.IDC[伦敦金现]</text>
<text x="137.3" y="13.1" fill="#d6dae0" font-size="10.8" font-family="'Liberation Sans','Noto Sans CJK SC',sans-serif" textLength="51" lengthAdjust="spacingAndGlyphs" stroke="#d6dae0" stroke-width="0.15">2025/02/11</text>
<text x="197.5" y="13.1" fill="#d6dae0" font-size="10.8" font-family="'Liberation Sans','Noto Sans CJK SC',sans-serif" textLength="9.2" lengthAdjust="spacingAndGlyphs" stroke="#d6dae0" stroke-width="0.15">收</text>
<text x="208.7" y="13.1" fill="#d82c34" font-size="10.8" font-family="'Liberation Sans','Noto Sans CJK SC',sans-serif" textLength="40.5" lengthAdjust="spacingAndGlyphs" stroke="#d82c34" stroke-width="0.15">2919.355</text>
<text x="257" y="13.1" fill="#d6dae0" font-size="10.8" font-family="'Liberation Sans','Noto Sans CJK SC',sans-serif" textLength="9.5" lengthAdjust="spacingAndGlyphs" stroke="#d6dae0" stroke-width="0.15">幅</text>
<text x="268.3" y="13.1" fill="#d82c34" font-size="10.8" font-family="'Liberation Sans','Noto Sans CJK SC',sans-serif" textLength="62.5" lengthAdjust="spacingAndGlyphs" stroke="#d82c34" stroke-width="0.15">0.41%(11.805)</text>
<text x="337.5" y="13.1" fill="#d6dae0" font-size="10.8" font-family="'Liberation Sans','Noto Sans CJK SC',sans-serif" textLength="9.5" lengthAdjust="spacingAndGlyphs" stroke="#d6dae0" stroke-width="0.15">开</text>
<text x="349.3" y="13.1" fill="#d82c34" font-size="10.8" font-family="'Liberation Sans','Noto Sans CJK SC',sans-serif" textLength="40.7" lengthAdjust="spacingAndGlyphs" stroke="#d82c34" stroke-width="0.15">2907.380</text>
<text x="398.3" y="13.1" fill="#d6dae0" font-size="10.8" font-family="'Liberation Sans','Noto Sans CJK SC',sans-serif" textLength="8.4" lengthAdjust="spacingAndGlyphs" stroke="#d6dae0" stroke-width="0.15">高</text>
<text x="409.3" y="13.1" fill="#d82c34" font-size="10.8" font-family="'Liberation Sans','Noto Sans CJK SC',sans-serif" textLength="40.7" lengthAdjust="spacingAndGlyphs" stroke="#d82c34" stroke-width="0.15">2942.710</text>
<text x="458.3" y="13.1" fill="#d6dae0" font-size="10.8" font-family="'Liberation Sans','Noto Sans CJK SC',sans-serif" textLength="8.4" lengthAdjust="spacingAndGlyphs" stroke="#d6dae0" stroke-width="0.15">低</text>
<text x="469.3" y="13.1" fill="#d82c34" font-size="10.8" font-family="'Liberation Sans','Noto Sans CJK SC',sans-serif" textLength="40.0" lengthAdjust="spacingAndGlyphs" stroke="#d82c34" stroke-width="0.15">2905.015</text>
<text x="517.3" y="13.1" fill="#d6dae0" font-size="10.8" font-family="'Liberation Sans','Noto Sans CJK SC',sans-serif" textLength="8.7" lengthAdjust="spacingAndGlyphs" stroke="#d6dae0" stroke-width="0.15">结</text>
<text x="528.3" y="13.1" fill="#d82c34" font-size="10.8" font-family="'Liberation Sans','Noto Sans CJK SC',sans-serif" textLength="24.4" lengthAdjust="spacingAndGlyphs" stroke="#d82c34" stroke-width="0.15">0.000</text>
<text x="560.7" y="13.1" fill="#d6dae0" font-size="10.8" font-family="'Liberation Sans','Noto Sans CJK SC',sans-serif" textLength="8.6" lengthAdjust="spacingAndGlyphs" stroke="#d6dae0" stroke-width="0.15">合</text>
<text x="571.7" y="13.1" fill="#d6dae0" font-size="10.8" font-family="'Liberation Sans','Noto Sans CJK SC',sans-serif" textLength="5.0" lengthAdjust="spacingAndGlyphs" stroke="#d6dae0" stroke-width="0.15">0</text>
<text x="585" y="13.1" fill="#d6dae0" font-size="10.8" font-family="'Liberation Sans','Noto Sans CJK SC',sans-serif" textLength="8.3" lengthAdjust="spacingAndGlyphs" stroke="#d6dae0" stroke-width="0.15">量</text>
<text x="596" y="13.1" fill="#d6dae0" font-size="10.8" font-family="'Liberation Sans','Noto Sans CJK SC',sans-serif" textLength="5.0" lengthAdjust="spacingAndGlyphs" stroke="#d6dae0" stroke-width="0.15">0</text>
<text x="609.3" y="13.1" fill="#d6dae0" font-size="10.8" font-family="'Liberation Sans','Noto Sans CJK SC',sans-serif" textLength="9.0" lengthAdjust="spacingAndGlyphs" stroke="#d6dae0" stroke-width="0.15">增</text>
<text x="620" y="13.1" fill="#d6dae0" font-size="10.8" font-family="'Liberation Sans','Noto Sans CJK SC',sans-serif" textLength="5.0" lengthAdjust="spacingAndGlyphs" stroke="#d6dae0" stroke-width="0.15">0</text>
<text x="633.3" y="13.1" fill="#d6dae0" font-size="10.8" font-family="'Liberation Sans','Noto Sans CJK SC',sans-serif" textLength="8.4" lengthAdjust="spacingAndGlyphs" stroke="#d6dae0" stroke-width="0.15">振</text>
<text x="644" y="13.1" fill="#d6dae0" font-size="10.8" font-family="'Liberation Sans','Noto Sans CJK SC',sans-serif" textLength="27.7" lengthAdjust="spacingAndGlyphs" stroke="#d6dae0" stroke-width="0.15">1.30%</text>
<text x="4.4" y="27.2" fill="#d6dae0" font-size="9.4" font-family="'Liberation Sans','Noto Sans CJK SC',sans-serif" textLength="18.4" lengthAdjust="spacingAndGlyphs" stroke="#d6dae0" stroke-width="0.2">MA5</text>
<text x="26.7" y="27.2" fill="#e08c14" font-size="9.4" font-family="'Liberation Sans','Noto Sans CJK SC',sans-serif" textLength="36.1" lengthAdjust="spacingAndGlyphs" stroke="#e08c14" stroke-width="0.2">2881.817</text>
<rect x="63.9" y="20.4" width="1.2" height="7.4" fill="#e08c14"/>
<polygon points="62.7,22.4 64.5,20.2 66.3,22.4" fill="#e08c14"/>
<text x="70.6" y="27.2" fill="#d6dae0" font-size="9.4" font-family="'Liberation Sans','Noto Sans CJK SC',sans-serif" textLength="22.7" lengthAdjust="spacingAndGlyphs" stroke="#d6dae0" stroke-width="0.2">MA10</text>
<text x="97.8" y="27.2" fill="#d4d41a" font-size="9.4" font-family="'Liberation Sans','Noto Sans CJK SC',sans-serif" textLength="36.1" lengthAdjust="spacingAndGlyphs" stroke="#d4d41a" stroke-width="0.2">2841.483</text>
<rect x="135.0" y="20.4" width="1.2" height="7.4" fill="#d4d41a"/>
<polygon points="133.8,22.4 135.6,20.2 137.4,22.4" fill="#d4d41a"/>
<text x="141.1" y="27.2" fill="#d6dae0" font-size="9.4" font-family="'Liberation Sans','Noto Sans CJK SC',sans-serif" textLength="23.3" lengthAdjust="spacingAndGlyphs" stroke="#d6dae0" stroke-width="0.2">MA20</text>
<text x="168.3" y="27.2" fill="#e020e0" font-size="9.4" font-family="'Liberation Sans','Noto Sans CJK SC',sans-serif" textLength="35.6" lengthAdjust="spacingAndGlyphs" stroke="#e020e0" stroke-width="0.2">2788.174</text>
<rect x="205.0" y="20.4" width="1.2" height="7.4" fill="#e020e0"/>
<polygon points="203.8,22.4 205.6,20.2 207.4,22.4" fill="#e020e0"/>
<text x="212.2" y="27.2" fill="#d6dae0" font-size="9.4" font-family="'Liberation Sans','Noto Sans CJK SC',sans-serif" textLength="22.8" lengthAdjust="spacingAndGlyphs" stroke="#d6dae0" stroke-width="0.2">MA60</text>
<text x="239.3" y="27.2" fill="#1aa01a" font-size="9.4" font-family="'Liberation Sans','Noto Sans CJK SC',sans-serif" textLength="34.0" lengthAdjust="spacingAndGlyphs" stroke="#1aa01a" stroke-width="0.2">2692.881</text>
<rect x="275.6" y="20.4" width="1.2" height="7.4" fill="#1aa01a"/>
<polygon points="274.4,22.4 276.2,20.2 278.0,22.4" fill="#1aa01a"/>
<text x="282.8" y="27.2" fill="#d6dae0" font-size="9.4" font-family="'Liberation Sans','Noto Sans CJK SC',sans-serif" textLength="28.3" lengthAdjust="spacingAndGlyphs" stroke="#d6dae0" stroke-width="0.2">MA120</text>
<text x="315" y="27.2" fill="#4cc8d0" font-size="9.4" font-family="'Liberation Sans','Noto Sans CJK SC',sans-serif" textLength="36.1" lengthAdjust="spacingAndGlyphs" stroke="#4cc8d0" stroke-width="0.2">2660.940</text>
<rect x="352.3" y="20.4" width="1.2" height="7.4" fill="#4cc8d0"/>
<polygon points="351.1,22.4 352.9,20.2 354.7,22.4" fill="#4cc8d0"/>
<text x="930.4" y="26.5" fill="#d0d4da" font-size="9.8" font-family="'Liberation Sans','Noto Sans CJK SC',sans-serif" textLength="123.1" lengthAdjust="spacingAndGlyphs" stroke="#d0d4da" stroke-width="0.2">2024/06/28-2025/02/11(162日)</text>
<rect x="930" y="28" width="124" height="1" fill="#9aa0a8"/>
<polygon points="1054.5,19.5 1064,19.5 1059.2,27" fill="#9c9c9c"/>
<rect x="1069" y="23" width="7.2" height="5.5" fill="#f0c030"/>
<rect x="1072" y="24.5" width="1.2" height="2.5" fill="#4a3a10"/>
<path d="M1074.8,23 V21.2 a2.4,2.4 0 0 1 4.8,0 V22" fill="none" stroke="#f0c030" stroke-width="1.2"/>
<rect x="1070.3" y="4.6" width="10" height="7.8" rx="0.8" fill="none" stroke="#8e8e8e" stroke-width="0.9"/>
<text x="1071.6" y="10.5" fill="#d8d8d8" font-size="5.4" font-family="'Liberation Sans','Noto Sans CJK SC',sans-serif" textLength="7.2" lengthAdjust="spacingAndGlyphs">WP</text>
<rect x="1074.2" y="12.5" width="1.6" height="1.2" fill="#8e8e8e"/>
<rect x="1071.4" y="13.6" width="7.6" height="1" fill="#8e8e8e"/>
<rect x="231" y="0" width="17" height="1.3" fill="#55575e"/>
</svg>
</body></html>
